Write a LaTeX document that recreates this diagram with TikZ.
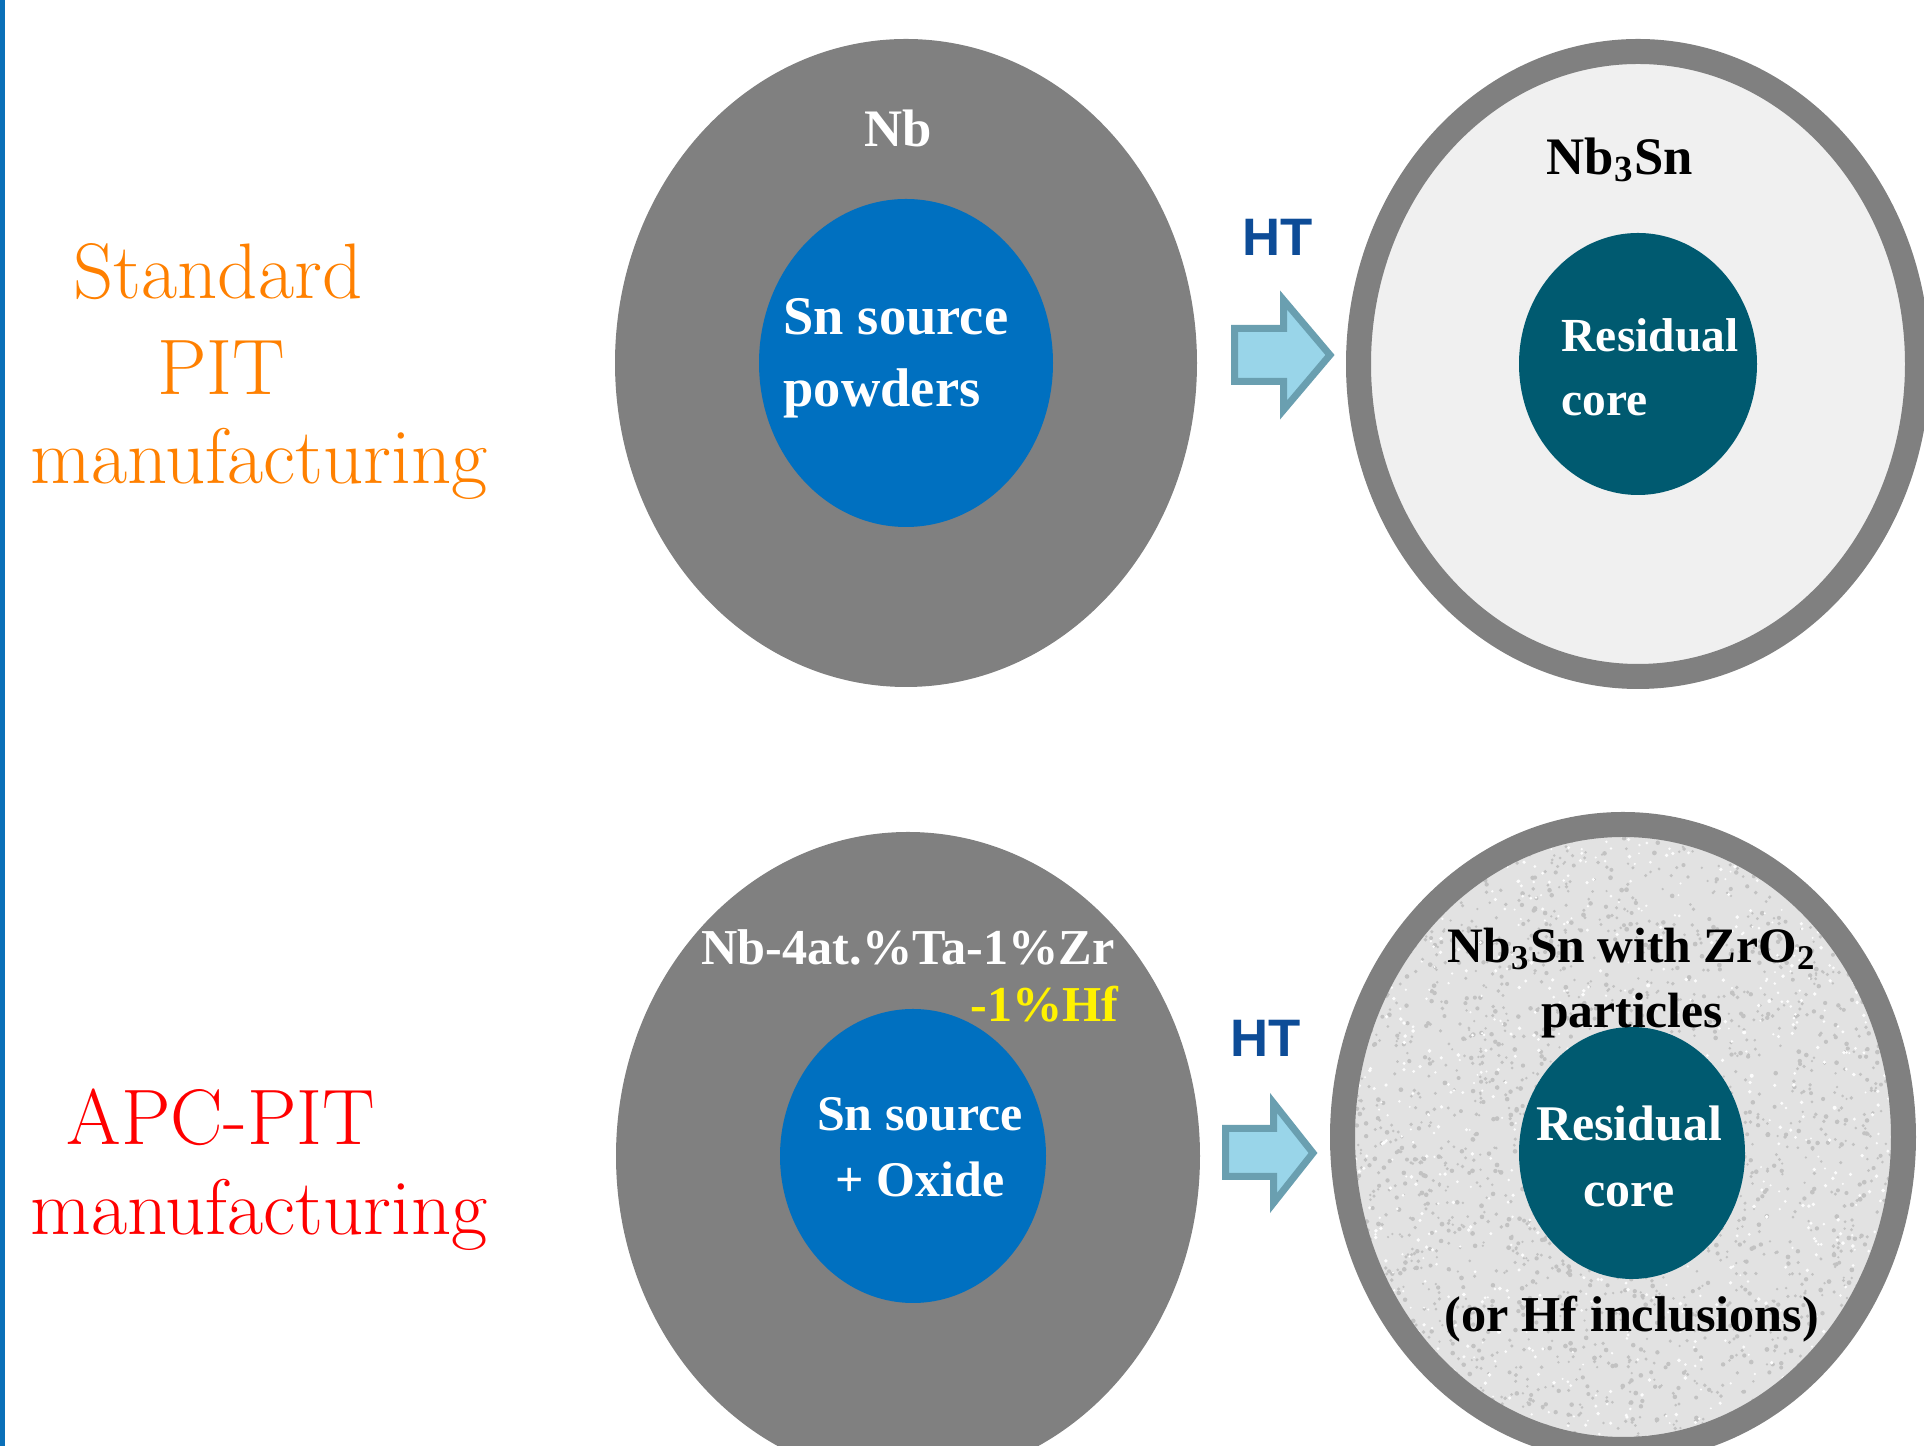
\documentclass[tikz,border=0pt]{standalone}
\usepackage{xcolor}
\usepackage{fontspec}
\newfontfamily\timesbf{Liberation Serif}[BoldFont={Liberation Serif Bold}]
\newfontfamily\arialbf{Liberation Sans}[BoldFont={Liberation Sans Bold}]
\usepackage{tikz}
\usetikzlibrary{positioning}

\definecolor{tubegray}{HTML}{808080}
\definecolor{snblue}{HTML}{0070C0}
\definecolor{coreteal}{HTML}{005A70}
\definecolor{phasegray}{HTML}{F0F0F0}
\definecolor{grain}{HTML}{E2E2E2}
\definecolor{arrowfill}{HTML}{99D5E9}
\definecolor{arrowline}{HTML}{6A9FB0}
\definecolor{htblue}{HTML}{0D4C97}
\definecolor{stdorange}{RGB}{255,128,0}
\definecolor{leftbar}{HTML}{0A70B8}

\tikzset{
  rowlabel/.style={font=\fontsize{22.4}{27.3}\selectfont, align=center},
  wirelabel/.style={font=\timesbf\bfseries\fontsize{14.3}{19}\selectfont, inner sep=0pt},
  htlabel/.style={font=\arialbf\bfseries\fontsize{15}{18}\selectfont, text=htblue},
  htarrow/.style={fill=arrowfill, draw=arrowline, line width=0.07cm, line join=miter},
  speck/.style={fill=black!24},
}

\begin{document}
\begin{tikzpicture}
    \useasboundingbox (0,0) rectangle (19.24,14.46);
    % Barre bleue a gauche
    \draw[leftbar, line width=0.05cm] (0.025,0) -- (0.025,14.46);

    % Libelles des deux procedes
    \node[rowlabel, text=stdorange] (std1) at (2.18,11.74) {Standard};
    \node[rowlabel, text=stdorange] (std2) at (2.21,10.78) {PIT};
    \node[rowlabel, text=stdorange] (std3) at (2.59,9.82) {manufacturing};
    \node[rowlabel, text=red] (apc1) at (2.21,3.29) {APC-PIT};
    \node[rowlabel, text=red] (apc2) at (2.59,2.31) {manufacturing};

    % Ligne du haut : tube Nb + poudres
    \fill[tubegray] (9.06,10.83) ellipse (2.91 and 3.24);
    \fill[snblue] (9.06,10.83) ellipse (1.47 and 1.64);
    \node[wirelabel, text=white, font=\timesbf\bfseries\fontsize{15}{19}\selectfont] (nbtop) at (8.98,13.18) {Nb};
    \node[wirelabel, text=white, align=left, anchor=west,
          font=\timesbf\bfseries\fontsize{15.5}{20.5}\selectfont] (sntop) at (7.83,10.88) {Sn source\\powders};

    % Fleche HT du haut
    \draw[htarrow] (12.345,11.175) -- (12.835,11.175) -- (12.835,11.46) -- (13.30,10.91)
        -- (12.835,10.36) -- (12.835,10.645) -- (12.345,10.645) -- cycle;
    \node[htlabel] (httop) at (12.78,12.09) {HT};

    % Fil reagi du haut
    \draw[tubegray, fill=phasegray, line width=0.25cm] (16.38,10.82) ellipse (2.795 and 3.125);
    \fill[coreteal] (16.38,10.82) ellipse (1.19 and 1.31);
    \node[wirelabel, font=\timesbf\bfseries\fontsize{15}{19}\selectfont] (nb3sntop) at (16.20,12.86) {Nb\textsubscript{3}Sn};
    \node[wirelabel, text=white, align=left, anchor=west,
          font=\timesbf\bfseries\fontsize{13.5}{18.2}\selectfont] (restop) at (15.61,10.79) {Residual\\core};

    % Ligne du bas : tube allie + poudres oxydees
    \fill[tubegray] (9.08,2.90) ellipse (2.92 and 3.24);
    \fill[snblue] (9.13,2.90) ellipse (1.33 and 1.47);
    \node[wirelabel, text=white] (nballoy) at (9.08,4.99) {Nb-4at.\%Ta-1\%Zr};
    \node[wirelabel, text=yellow, anchor=east] (hfadd) at (11.19,4.42) {-1\%Hf};
    \node[wirelabel, text=white, align=center, font=\timesbf\bfseries\fontsize{14.2}{18.8}\selectfont] (snbot) at (9.20,2.99) {Sn source\\+ Oxide};

    % Fleche HT du bas
    \draw[htarrow] (12.255,3.175) -- (12.735,3.175) -- (12.735,3.43) -- (13.13,2.93)
        -- (12.735,2.43) -- (12.735,2.695) -- (12.255,2.695) -- cycle;
    \node[htlabel] (htbot) at (12.66,4.08) {HT};

    % Fil reagi du bas, phase granuleuse
    \begin{scope}
        \clip (16.23,3.09) ellipse (2.80 and 3.125);
        \fill[grain] (16.23,3.09) ellipse (2.80 and 3.125);
        \pgfmathsetseed{42}
        \foreach \i in {1,...,2600}
            \fill[speck] (16.23+2.8*rand, 3.09+3.1*rand) circle (0.012+0.012*rnd);
        \foreach \i in {1,...,900}
            \fill[white!90!grain] (16.23+2.8*rand, 3.09+3.1*rand) circle (0.01+0.01*rnd);
    \end{scope}
    \draw[tubegray, line width=0.25cm] (16.23,3.09) ellipse (2.805 and 3.125);
    \fill[coreteal] (16.32,2.93) ellipse (1.13 and 1.26);
    \node[wirelabel, align=center, font=\timesbf\bfseries\fontsize{14.1}{18.5}\selectfont] (nb3snbot) at (16.32,4.63)
        {Nb\textsubscript{3}Sn with ZrO\textsubscript{2}\\particles};
    \node[wirelabel, text=white, align=center, font=\timesbf\bfseries\fontsize{14.2}{19}\selectfont] (resbot) at (16.29,2.895) {Residual\\core};
    \node[wirelabel] (hfincl) at (16.32,1.27) {(or Hf inclusions)};
\end{tikzpicture}
\end{document}
